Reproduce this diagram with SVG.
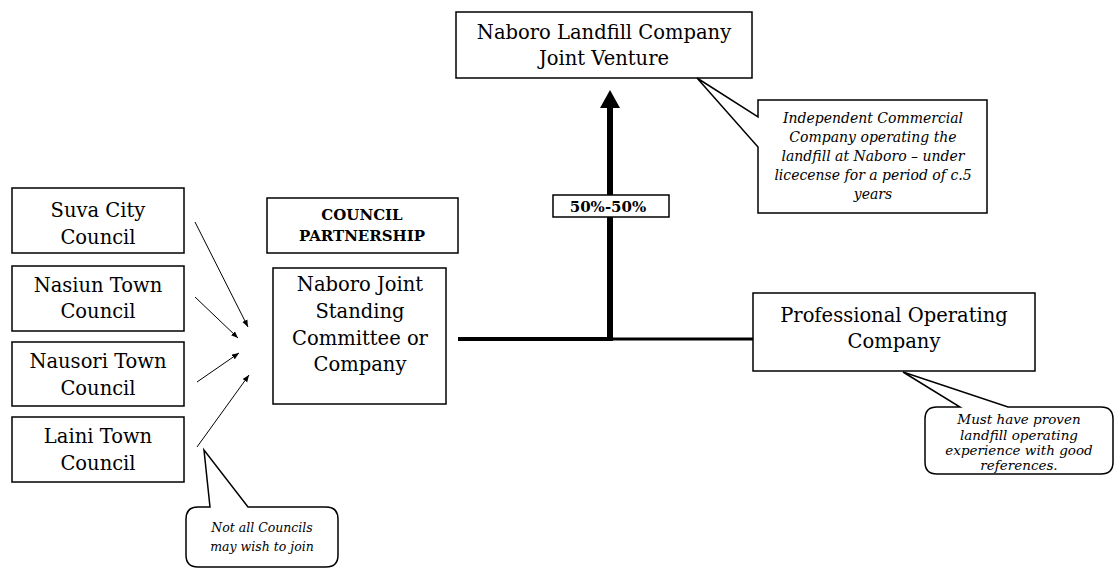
<svg xmlns="http://www.w3.org/2000/svg" width="1117" height="570" viewBox="0 0 1117 570">
<defs>
<style>
.box{fill:#fff;stroke:#000;stroke-width:1.5}
.t{font-family:"DejaVu Serif","Liberation Serif",serif;font-size:19.5px;fill:#000;text-anchor:middle}
.b{font-family:"DejaVu Serif","Liberation Serif",serif;font-size:15px;font-weight:bold;fill:#000;text-anchor:middle}
.i{font-family:"DejaVu Serif","Liberation Serif",serif;font-style:italic;font-size:14px;fill:#000;text-anchor:middle}
.thin{stroke:#000;stroke-width:1;fill:none}
</style>
<marker id="ah" viewBox="0 0 10 10" refX="10" refY="5" markerWidth="7" markerHeight="7" markerUnits="userSpaceOnUse" orient="auto">
<path d="M0,1 L10,5 L0,9 Z" fill="#000"/>
</marker>
</defs>
<rect width="1117" height="570" fill="#fff"/>

<g id="connectors">
<line class="thin" x1="195" y1="222" x2="248" y2="327" marker-end="url(#ah)"/>
<line class="thin" x1="195" y1="297" x2="238" y2="338" marker-end="url(#ah)"/>
<line class="thin" x1="197" y1="382" x2="239" y2="353" marker-end="url(#ah)"/>
<line class="thin" x1="197" y1="447" x2="249" y2="375" marker-end="url(#ah)"/>
<line x1="458" y1="339" x2="612" y2="339" stroke="#000" stroke-width="4"/>
<line x1="612" y1="339" x2="753" y2="339" stroke="#000" stroke-width="3"/>
<line x1="610" y1="341" x2="610" y2="104" stroke="#000" stroke-width="6"/>
<path d="M600,108 L610,90 L620,108 Z" fill="#000"/>
</g>

<g id="naboro-landfill">
<rect class="box" x="456" y="12" width="296" height="66"/>
<text class="t" x="604" y="39">Naboro Landfill Company</text>
<text class="t" x="604" y="65">Joint Venture</text>
</g>

<g id="label-5050">
<rect class="box" x="553" y="195" width="116" height="22"/>
<text class="b" x="608" y="212">50%-50%</text>
</g>

<g id="callout-commercial">
<path class="box" d="M758,100 H987 V213 H758 V147 L697,78 L758,117 Z"/>
<text class="i" x="873" y="123">Independent Commercial</text>
<text class="i" x="873" y="142">Company operating the</text>
<text class="i" x="873" y="161">landfill at Naboro – under</text>
<text class="i" x="873" y="180">licecense for a period of c.5</text>
<text class="i" x="873" y="199">years</text>
</g>

<g id="suva">
<rect class="box" x="12" y="188" width="172" height="65"/>
<text class="t" x="98" y="217">Suva City</text>
<text class="t" x="98" y="244">Council</text>
</g>

<g id="nasiun">
<rect class="box" x="12" y="266" width="172" height="65"/>
<text class="t" x="98" y="292">Nasiun Town</text>
<text class="t" x="98" y="318">Council</text>
</g>

<g id="nausori">
<rect class="box" x="12" y="342" width="172" height="64"/>
<text class="t" x="98" y="368">Nausori Town</text>
<text class="t" x="98" y="395">Council</text>
</g>

<g id="laini">
<rect class="box" x="12" y="417" width="172" height="65"/>
<text class="t" x="98" y="443">Laini Town</text>
<text class="t" x="98" y="470">Council</text>
</g>

<g id="council-partnership">
<rect class="box" x="267" y="198" width="191" height="55"/>
<text class="b" x="362" y="220">COUNCIL</text>
<text class="b" x="362" y="241">PARTNERSHIP</text>
</g>

<g id="naboro-joint">
<rect class="box" x="273" y="268" width="173" height="136"/>
<text class="t" x="360" y="291">Naboro Joint</text>
<text class="t" x="360" y="318">Standing</text>
<text class="t" x="360" y="345">Committee or</text>
<text class="t" x="360" y="371">Company</text>
</g>

<g id="professional">
<rect class="box" x="753" y="293" width="282" height="78"/>
<text class="t" x="894" y="322">Professional Operating</text>
<text class="t" x="894" y="348">Company</text>
</g>

<g id="callout-proven">
<path class="box" d="M937,407 H960 L903,372 L1008,407 H1101 Q1113,407 1113,419 V462 Q1113,474 1101,474 H937 Q925,474 925,462 V419 Q925,407 937,407 Z"/>
<text class="i" x="1019" y="424" style="font-size:13.5px">Must have proven</text>
<text class="i" x="1019" y="440" style="font-size:13.5px">landfill operating</text>
<text class="i" x="1019" y="455" style="font-size:13.5px">experience with good</text>
<text class="i" x="1019" y="470" style="font-size:13.5px">references.</text>
</g>

<g id="callout-join">
<path class="box" d="M198,507 H210 L204,450 L248,507 H326 Q338,507 338,519 V555 Q338,567 326,567 H198 Q186,567 186,555 V519 Q186,507 198,507 Z"/>
<text class="i" x="262" y="532" style="font-size:12.5px">Not all Councils</text>
<text class="i" x="262" y="551" style="font-size:12.5px">may wish to join</text>
</g>
</svg>
